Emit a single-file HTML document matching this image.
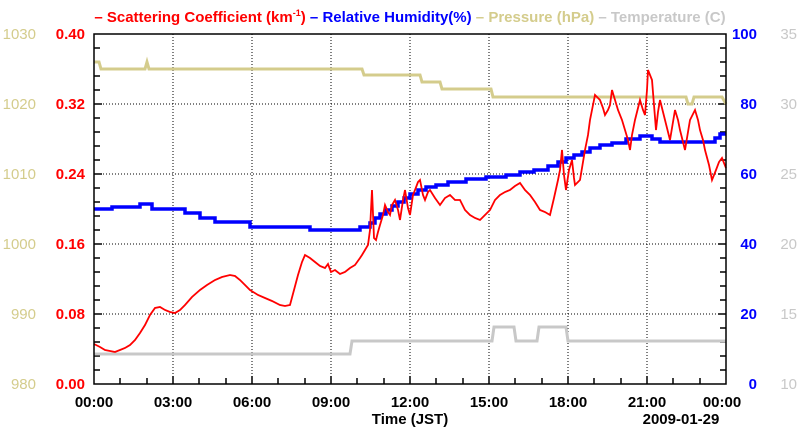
<!DOCTYPE html>
<html><head><meta charset="utf-8"><style>
html,body{margin:0;padding:0;background:#fff}
svg{display:block;font-family:"Liberation Sans",sans-serif;font-weight:bold}
</style></head><body>
<svg width="800" height="434" viewBox="0 0 800 434" xmlns="http://www.w3.org/2000/svg">
<text x="410" y="22" font-size="15" text-anchor="middle"><tspan fill="#f00">– Scattering Coefficient (km</tspan><tspan fill="#f00" font-size="9" dy="-6">-1</tspan><tspan fill="#f00" dy="6">)</tspan><tspan fill="#00f"> – Relative Humidity(%)</tspan><tspan fill="#d4cc8c"> – Pressure (hPa)</tspan><tspan fill="#c8c8c8"> – Temperature (C)</tspan></text>
<g stroke="#000" stroke-width="1" stroke-dasharray="1,2">
<line x1="173" y1="34" x2="173" y2="384"/><line x1="252" y1="34" x2="252" y2="384"/><line x1="331" y1="34" x2="331" y2="384"/><line x1="410" y1="34" x2="410" y2="384"/><line x1="489" y1="34" x2="489" y2="384"/><line x1="568" y1="34" x2="568" y2="384"/><line x1="647" y1="34" x2="647" y2="384"/>
<line x1="94" y1="104" x2="726" y2="104"/><line x1="94" y1="174" x2="726" y2="174"/><line x1="94" y1="244" x2="726" y2="244"/><line x1="94" y1="314" x2="726" y2="314"/>
</g>
<g stroke="#000" stroke-width="1.5">
<path d="M94 48h6M94 62h6M94 76h6M94 90h6M94 104h8M94 118h6M94 132h6M94 146h6M94 160h6M94 174h8M94 188h6M94 202h6M94 216h6M94 230h6M94 244h8M94 258h6M94 272h6M94 286h6M94 300h6M94 314h8M94 328h6M94 342h6M94 356h6M94 370h6"/>
<path d="M726 48h-6M726 62h-6M726 76h-6M726 90h-6M726 104h-8M726 118h-6M726 132h-6M726 146h-6M726 160h-6M726 174h-8M726 188h-6M726 202h-6M726 216h-6M726 230h-6M726 244h-8M726 258h-6M726 272h-6M726 286h-6M726 300h-6M726 314h-8M726 328h-6M726 342h-6M726 356h-6M726 370h-6"/>
<path d="M120 384v-6M147 384v-6M173 384v-8M199 384v-6M226 384v-6M252 384v-8M278 384v-6M305 384v-6M331 384v-8M357 384v-6M384 384v-6M410 384v-8M436 384v-6M463 384v-6M489 384v-8M515 384v-6M542 384v-6M568 384v-8M594 384v-6M621 384v-6M647 384v-8M673 384v-6M700 384v-6"/>
</g>
<polyline fill="none" stroke="#c8c8c8" stroke-width="3" points="94,354 350,354 352,341 492,341 494,327 514,327 516,341 537,341 539,327 566,327 568,341 726,341"/>
<polyline fill="none" stroke="#d4cc8c" stroke-width="3" points="94,62 99,62 101,69 145,69 147,62 149,69 362,69 364,75 420,75 422,82 440,82 442,89 491,89 493,97 686,97 688,104 692,104 694,97 722,97 726,104"/>
<polyline fill="none" stroke="#00f" stroke-width="3.5" points="94,209 112,209 112,207 140,207 140,204 152,204 152,209 185,209 185,213 200,213 200,218 215,218 215,222 250,222 250,227 310,227 310,230 360,230 360,227 370,227 370,223 375,223 375,218 380,218 380,214 386,214 386,210 392,210 392,206 398,206 398,202 404,202 404,198 410,198 410,194 418,194 418,190 426,190 426,187 436,187 436,185 448,185 448,182 466,182 466,179 486,179 486,177 506,177 506,175 520,175 520,172 534,172 534,170 548,170 548,166 558,166 558,162 566,162 566,158 574,158 574,155 582,155 582,152 590,152 590,148 600,148 600,145 612,145 612,143 626,143 626,139 640,139 640,136 652,136 652,139 660,139 660,142 715,142 715,138 720,138 720,134 726,134"/>
<polyline fill="none" stroke="#f00" stroke-width="1.8" points="94,344 100,347 105,350 110,351 115,352 120,350 125,348 130,345 135,340 140,333 145,325 150,315 155,308 160,307 165,310 170,312 175,313 180,310 185,305 192,297 200,290 207,285 215,280 222,277 230,275 235,276 240,280 245,285 250,290 258,295 265,298 272,301 280,305 285,306 290,305 294,290 298,275 302,262 305,255 310,258 315,262 320,266 325,268 328,264 331,272 335,270 340,274 345,272 350,268 355,265 360,258 362,255 365,250 368,245 370,230 372,190 374,238 376,240 378,232 380,225 383,215 385,205 388,212 390,215 392,205 395,200 398,210 400,220 403,200 405,190 408,208 410,215 413,195 415,190 418,182 420,180 423,195 425,200 428,192 430,190 435,198 440,205 445,198 450,195 455,200 460,200 465,210 470,215 475,218 480,220 485,215 490,210 495,200 500,195 505,192 510,190 515,186 520,183 525,190 530,195 535,202 540,210 545,212 550,215 554,198 558,180 560,170 562,150 564,175 566,190 569,170 572,160 574,178 575,185 578,182 580,180 583,162 585,150 588,135 590,120 593,105 595,95 598,98 600,100 603,108 605,115 608,110 610,105 612,90 615,100 618,110 622,120 625,130 628,140 630,150 632,135 635,120 638,108 640,100 643,110 645,115 647,90 648,70 650,75 652,80 654,105 656,130 658,112 660,100 663,112 665,120 668,132 670,140 673,122 675,110 678,120 680,130 683,142 685,150 688,132 690,120 693,114 695,110 698,120 700,130 703,140 705,150 709,165 712,180 714,175 716,170 719,162 722,158 724,163 726,168"/>
<rect x="94" y="34" width="632" height="350" fill="none" stroke="#000" stroke-width="1.5"/>
<g font-size="15" text-anchor="end" fill="#d4cc8c" font-weight="normal">
<text x="36" y="39">1030</text><text x="36" y="109">1020</text><text x="36" y="179">1010</text><text x="36" y="249">1000</text><text x="36" y="319">990</text><text x="36" y="389">980</text>
</g>
<g font-size="15" text-anchor="end" fill="#f00">
<text x="85" y="39">0.40</text><text x="85" y="109">0.32</text><text x="85" y="179">0.24</text><text x="85" y="249">0.16</text><text x="85" y="319">0.08</text><text x="85" y="389">0.00</text>
</g>
<g font-size="15" text-anchor="end" fill="#00f">
<text x="757" y="39">100</text><text x="757" y="109">80</text><text x="757" y="179">60</text><text x="757" y="249">40</text><text x="757" y="319">20</text><text x="757" y="389">0</text>
</g>
<g font-size="15" text-anchor="end" fill="#c8c8c8" font-weight="normal">
<text x="797" y="39">35</text><text x="797" y="109">30</text><text x="797" y="179">25</text><text x="797" y="249">20</text><text x="797" y="319">15</text><text x="797" y="389">10</text>
</g>
<g font-size="15" text-anchor="middle" fill="#000">
<text x="94" y="407">00:00</text><text x="173" y="407">03:00</text><text x="252" y="407">06:00</text><text x="331" y="407">09:00</text><text x="410" y="407">12:00</text><text x="489" y="407">15:00</text><text x="568" y="407">18:00</text><text x="647" y="407">21:00</text><text x="722" y="407">00:00</text>
<text x="410" y="424">Time (JST)</text><text x="681" y="424">2009-01-29</text>
</g>
</svg>
</body></html>
